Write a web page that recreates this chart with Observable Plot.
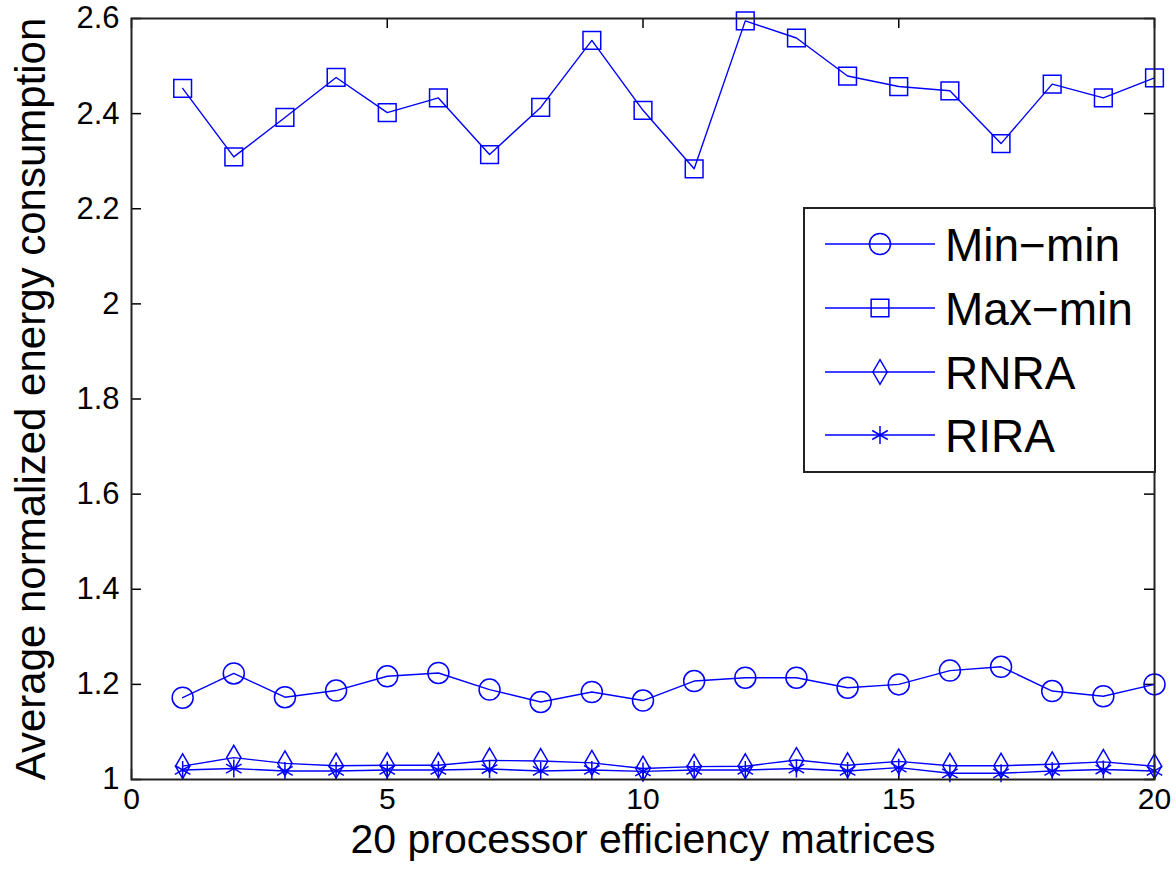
<!DOCTYPE html>
<html>
<head>
<meta charset="utf-8">
<script src="https://cdn.jsdelivr.net/npm/d3@7"></script>
<script src="https://cdn.jsdelivr.net/npm/@observablehq/plot@0.6"></script>
<style>
  body { margin: 0; background: #fff; }
  #wrap { position: relative; width: 1176px; height: 880px; font-family: "Liberation Sans", Arial, Helvetica, sans-serif; }
  #legend { position: absolute; left: 803px; top: 207px; }
</style>
</head>
<body>
<div id="wrap"></div>
<script>
// ---- data ----
const matrices = d3.range(1, 21);
const minMin = [1.172, 1.223, 1.173, 1.187, 1.217, 1.224, 1.189, 1.163, 1.184, 1.166,
                1.207, 1.214, 1.214, 1.193, 1.200, 1.229, 1.237, 1.186, 1.175, 1.200];
const maxMin = [2.453, 2.309, 2.392, 2.476, 2.402, 2.433, 2.314, 2.413, 2.554, 2.407,
                2.284, 2.595, 2.559, 2.479, 2.457, 2.448, 2.337, 2.462, 2.433, 2.475];
const rnra   = [1.028, 1.046, 1.034, 1.029, 1.030, 1.030, 1.040, 1.039, 1.035, 1.023,
                1.027, 1.028, 1.041, 1.030, 1.038, 1.029, 1.029, 1.032, 1.037, 1.028];
const rira   = [1.020, 1.023, 1.018, 1.018, 1.020, 1.020, 1.022, 1.018, 1.020, 1.017,
                1.020, 1.020, 1.023, 1.018, 1.025, 1.013, 1.013, 1.018, 1.021, 1.018];
const seriesNames = ["Min\u2212min", "Max\u2212min", "RNRA", "RIRA"];
const xTicks = [0, 5, 10, 15, 20];
const yTicks = [1, 1.2, 1.4, 1.6, 1.8, 2, 2.2, 2.4, 2.6];
const xLabel = "20 processor efficiency matrices";
const yLabel = "Average normalized energy consumption";

// ---- styling ----
const blue = "#0000ff";
const font = '"Liberation Sans", Arial, Helvetica, sans-serif';
const symbols = ["circle", "square", "diamond", "asterisk"];
const radii = [10.5, 10, 7.5, 8.5];
const allValues = [minMin, maxMin, rnra, rira];

const W = 1176, H = 880;
const mL = 131, mR = 22, mT = 18, mB = 101;
const frameW = W - mL - mR, frameH = H - mT - mB;
const tickLen = 10;

const marks = [];
allValues.forEach((vals, k) => {
  const rows = vals.map((v, i) => ({x: matrices[i], y: v}));
  marks.push(Plot.line(rows, {x: "x", y: "y", stroke: blue, strokeWidth: 1.4}));
  marks.push(Plot.dot(rows, {x: "x", y: "y", symbol: () => symbols[k], r: radii[k],
    stroke: blue, fill: "none", strokeWidth: 1.5}));
});

const fmt = d => String(+d.toFixed(1));

const chart = Plot.plot({
  width: W, height: H,
  marginLeft: mL, marginRight: mR, marginTop: mT, marginBottom: mB,
  style: {fontFamily: font, background: "#fff", color: "#000", overflow: "visible"},
  x: {domain: [0, 20]},
  y: {domain: [1, 2.6]},
  symbol: {type: "identity"},
  marks: [
    // inward ticks on all four sides
    Plot.gridX(xTicks, {stroke: "#000", strokeOpacity: 1, strokeWidth: 1.5, insetTop: frameH - tickLen}),
    Plot.gridX(xTicks, {stroke: "#000", strokeOpacity: 1, strokeWidth: 1.5, insetBottom: frameH - tickLen}),
    Plot.gridY(yTicks, {stroke: "#000", strokeOpacity: 1, strokeWidth: 1.5, insetRight: frameW - tickLen}),
    Plot.gridY(yTicks, {stroke: "#000", strokeOpacity: 1, strokeWidth: 1.5, insetLeft: frameW - tickLen}),
    Plot.axisX(xTicks, {anchor: "bottom", tickSize: 0, tickPadding: 8, fontSize: 30, label: null, tickFormat: fmt}),
    Plot.axisY(yTicks, {anchor: "left", tickSize: 0, tickPadding: 12, fontSize: 31, label: null, tickFormat: fmt}),
    Plot.text([xLabel], {frameAnchor: "bottom", lineAnchor: "middle", textAnchor: "middle", dy: 60, fontSize: 41, fill: "#000"}),
    Plot.text([yLabel], {frameAnchor: "left", lineAnchor: "middle", textAnchor: "middle", rotate: -90, dx: -100, fontSize: 42, fill: "#000"}),
    ...marks,
    Plot.frame({stroke: "#222", strokeWidth: 2})
  ]
});

const wrap = document.getElementById("wrap");
wrap.appendChild(chart);

// ---- legend (MATLAB style box) ----
const LW = 353, LH = 266;
const legend = d3.select(wrap).append("div").attr("id", "legend")
  .append("svg").attr("width", LW).attr("height", LH)
  .style("font-family", font);
legend.append("rect").attr("x", 1).attr("y", 1).attr("width", LW - 2).attr("height", LH - 2)
  .attr("fill", "#fff").attr("stroke", "#222").attr("stroke-width", 2);
const d3sym = {circle: d3.symbolCircle, square: d3.symbolSquare, diamond: d3.symbolDiamond, asterisk: d3.symbolAsterisk};
const rowY = [37, 101, 165, 228];
seriesNames.forEach((name, k) => {
  const g = legend.append("g").attr("transform", `translate(0,${rowY[k]})`);
  g.append("line").attr("x1", 22).attr("x2", 132).attr("stroke", blue).attr("stroke-width", 1.4);
  g.append("path").attr("transform", "translate(77,0)")
    .attr("d", d3.symbol(d3sym[symbols[k]], Math.PI * radii[k] * radii[k])())
    .attr("fill", "none").attr("stroke", blue).attr("stroke-width", 1.5);
  g.append("text").attr("x", 142).attr("dy", "0.36em").attr("font-size", 46).attr("fill", "#000").text(name);
});
</script>
</body>
</html>
